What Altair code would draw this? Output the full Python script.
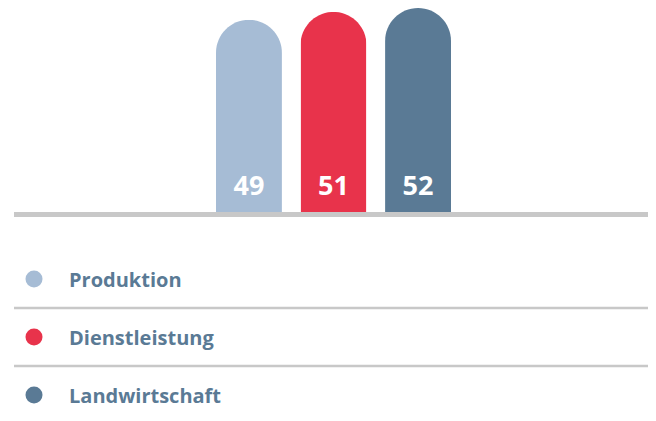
import altair as alt
import pandas as pd

categories = ["Produktion", "Dienstleistung", "Landwirtschaft"]
values = [49, 51, 52]
colors = ["#a6bcd5", "#e8334b", "#5a7a95"]
positions = [0, 1, 2]
separators = [0.5, 1.5]

df = pd.DataFrame({"cat": categories, "value": values, "pos": positions})
sep_df = pd.DataFrame({"pos": separators})

color = alt.Color("cat:N", scale=alt.Scale(domain=categories, range=colors), legend=None)
xb = alt.X("cat:N", sort=categories,
           scale=alt.Scale(type="band", range=[208, 443], paddingInner=0.22, paddingOuter=0),
           axis=None)
yscale = alt.Scale(domain=[0, 52], range=[204, 0], nice=False, zero=True)
yb = alt.Y("value:Q", scale=yscale, axis=None)

bars = alt.Chart(df).mark_bar(cornerRadiusTopLeft=33, cornerRadiusTopRight=33).encode(
    x=xb, y=yb, color=color
)
labels = alt.Chart(df).mark_text(
    color="white", font="Open Sans", fontWeight="bold", fontSize=27,
    baseline="alphabetic", align="center", dy=-17
).encode(x=xb, y=alt.YDatum(0, scale=yscale, axis=None), text="value:Q")

baseline = alt.Chart(df).mark_rule(color="#c8c8c8", strokeWidth=5, yOffset=2.5).encode(
    x=alt.value(6), x2=alt.value(640), y=alt.YDatum(0, scale=yscale, axis=None)
)

lscale = alt.Scale(domain=[0, 2], range=[271, 387], nice=False, zero=False)
ly = alt.Y("pos:Q", scale=lscale, axis=None)

dots = alt.Chart(df).mark_circle(size=290, opacity=1).encode(
    x=alt.value(26), y=ly, color=color
)
ltext = alt.Chart(df).mark_text(
    align="left", baseline="alphabetic", dy=8, font="Open Sans", fontWeight="bold",
    fontSize=20, color="#5a7a95"
).encode(x=alt.value(61), y=ly, text="cat:N")
seps = alt.Chart(sep_df).mark_rule(color="#c8c8c8", strokeWidth=2.5).encode(
    x=alt.value(6), x2=alt.value(640), y=ly
)

chart = alt.layer(bars, labels, baseline, seps, dots, ltext).resolve_scale(
    x="independent", y="independent"
).properties(width=640, height=405, autosize="none", padding=0).configure_view(stroke=None)

chart.save("out.html", embed_options={"renderer": "svg", "actions": False})
